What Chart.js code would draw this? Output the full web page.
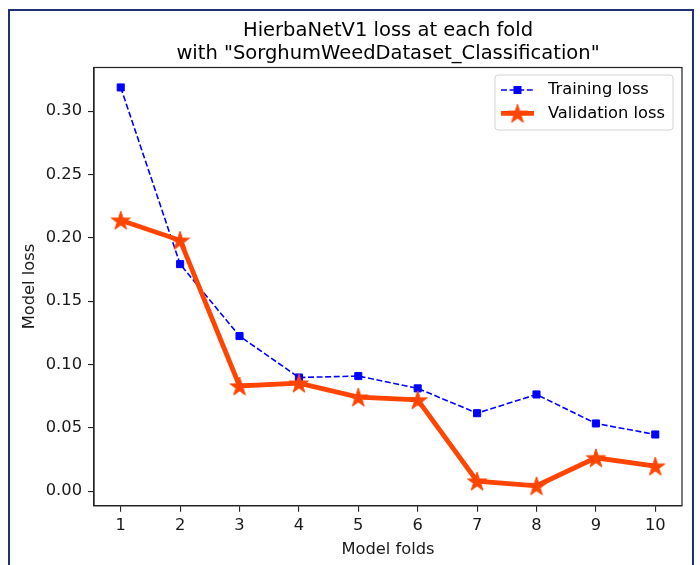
<!DOCTYPE html>
<html>
<head>
<meta charset="utf-8">
<script src="https://cdn.jsdelivr.net/npm/chart.js@4.4.0/dist/chart.umd.min.js"></script>
<style>
  body { margin: 0; background: #fff; overflow: hidden; }
  #frame { position: absolute; left: 8px; top: 9px; width: 686px; height: 620px; box-sizing: border-box; border: 2px solid #1f3175; }
  #chart { position: absolute; left: 0; top: 0; }
</style>
</head>
<body>
<div id="frame"></div>
<canvas id="chart" width="700" height="565"></canvas>
<script>
// Data
const folds = [1, 2, 3, 4, 5, 6, 7, 8, 9, 10];
const trainingLoss = [0.3187, 0.1792, 0.1224, 0.0897, 0.0908, 0.0811, 0.0615, 0.0763, 0.0534, 0.0447];
const validationLoss = [0.2139, 0.1980, 0.0830, 0.0852, 0.0742, 0.0720, 0.0079, 0.0042, 0.0263, 0.0197];
const yTicks = [0, 0.05, 0.10, 0.15, 0.20, 0.25, 0.30];

const family = "'DejaVu Sans', sans-serif";
const fontSize = 16.3;
const ink = "#1a1a1a";

// matplotlib style autoscale: 5% margin around the data
const allLoss = trainingLoss.concat(validationLoss);
const yLo = Math.min(...allLoss), yHi = Math.max(...allLoss);
const yPad = (yHi - yLo) * 0.05;
const xPad = (folds[folds.length - 1] - folds[0]) * 0.05;

// filled five point star marker, like matplotlib's "*"
function makeStar(color, R) {
  const c = document.createElement("canvas");
  c.width = c.height = Math.ceil(R * 2 + 4);
  const g = c.getContext("2d");
  const cx = c.width / 2, cy = c.height / 2 + R * 0.1;
  const r = R * 0.382;
  g.beginPath();
  for (let i = 0; i < 10; i++) {
    const rad = i % 2 === 0 ? R : r;
    const a = -Math.PI / 2 + i * Math.PI / 5;
    g.lineTo(cx + rad * Math.cos(a), cy + rad * Math.sin(a));
  }
  g.closePath();
  g.fillStyle = color;
  g.fill();
  g.strokeStyle = color;
  g.lineWidth = 1;
  g.stroke();
  return c;
}
const star = makeStar("#ff4500", 10);

// axes box drawn on all four sides
const spines = {
  id: "spines",
  afterDatasetsDraw(chart) {
    const { ctx, chartArea: a } = chart;
    ctx.save();
    ctx.strokeStyle = "#222";
    ctx.lineWidth = 1.2;
    ctx.strokeRect(a.left, a.top, a.right - a.left, a.bottom - a.top);
    ctx.restore();
  }
};

// matplotlib-like legend in the upper right corner
const mplLegend = {
  id: "mplLegend",
  afterDraw(chart) {
    const { ctx, chartArea: a } = chart;
    const sets = chart.data.datasets;
    ctx.save();
    ctx.font = `${fontSize}px ${family}`;
    const textW = Math.max(...sets.map(d => ctx.measureText(d.label).width));
    const w = 6 + 33 + 14 + textW + 8;
    const h = 55;
    const x0 = a.right - 9 - w;
    const y0 = a.top + 7.5;
    ctx.beginPath();
    ctx.roundRect(x0, y0, w, h, 3);
    ctx.fillStyle = "rgba(255,255,255,0.8)";
    ctx.fill();
    ctx.strokeStyle = "#d4d4d4";
    ctx.lineWidth = 1;
    ctx.stroke();
    sets.forEach((ds, i) => {
      const cy = y0 + 15 + i * 23.3;
      const hx0 = x0 + 6, hx1 = hx0 + 33, hm = (hx0 + hx1) / 2;
      ctx.beginPath();
      ctx.setLineDash(ds.borderDash || []);
      ctx.strokeStyle = ds.borderColor;
      ctx.lineWidth = ds.borderWidth;
      ctx.moveTo(hx0, cy);
      ctx.lineTo(hx1, cy);
      ctx.stroke();
      ctx.setLineDash([]);
      if (ds.pointStyle === "rect") {
        const s = 8;
        ctx.fillStyle = ds.pointBackgroundColor;
        ctx.fillRect(hm - s / 2, cy - s / 2, s, s);
      } else {
        ctx.drawImage(ds.pointStyle, hm - ds.pointStyle.width / 2, cy - ds.pointStyle.height / 2);
      }
      ctx.fillStyle = "#000";
      ctx.textBaseline = "middle";
      ctx.textAlign = "left";
      ctx.fillText(ds.label, hx1 + 14, cy);
    });
    ctx.restore();
  }
};

new Chart(document.getElementById("chart"), {
  type: "line",
  data: {
    datasets: [
      {
        label: "Training loss",
        data: folds.map((f, i) => ({ x: f, y: trainingLoss[i] })),
        borderColor: "#0000ff",
        borderWidth: 1.6,
        borderDash: [6, 2.6],
        pointStyle: "rect",
        pointRadius: 5,
        pointBorderWidth: 1,
        pointBackgroundColor: "#0000ff",
        pointBorderColor: "#0000ff",
        tension: 0,
        order: 1
      },
      {
        label: "Validation loss",
        data: folds.map((f, i) => ({ x: f, y: validationLoss[i] })),
        borderColor: "#ff4500",
        borderWidth: 4.8,
        pointStyle: star,
        pointRadius: 10,
        pointBackgroundColor: "#ff4500",
        pointBorderColor: "#ff4500",
        tension: 0,
        order: 0
      }
    ]
  },
  options: {
    responsive: false,
    animation: false,
    devicePixelRatio: 1,
    layout: { padding: { left: 0, right: 18, top: 0, bottom: 0 } },
    plugins: {
      legend: { display: false },
      tooltip: { enabled: false },
      title: {
        display: true,
        fullSize: false,
        text: ["HierbaNetV1 loss at each fold", "with \"SorghumWeedDataset_Classification\""],
        color: "#000",
        font: { family: family, size: 19.5, weight: "normal", lineHeight: 1.2 },
        padding: { top: 18.8, bottom: 1.9 }
      }
    },
    scales: {
      x: {
        type: "linear",
        min: folds[0] - xPad,
        max: folds[folds.length - 1] + xPad,
        afterBuildTicks: s => { s.ticks = folds.map(v => ({ value: v })); },
        afterFit: s => { s.height = 59.3; },
        grid: { drawOnChartArea: false, drawTicks: true, tickLength: 6, color: "#222", lineWidth: 1.1 },
        border: { display: true, color: "#222", width: 1.2 },
        ticks: { color: ink, font: { family: family, size: fontSize }, padding: 4, maxRotation: 0, autoSkip: false },
        title: { display: true, text: "Model folds", color: ink, font: { family: family, size: fontSize }, padding: { top: 0, bottom: 5.9 } }
      },
      y: {
        type: "linear",
        min: yLo - yPad,
        max: yHi + yPad,
        afterBuildTicks: s => { s.ticks = yTicks.map(v => ({ value: v })); },
        afterFit: s => { s.width = 94; },
        grid: { drawOnChartArea: false, drawTicks: true, tickLength: 6, color: "#222", lineWidth: 1.1 },
        border: { display: true, color: "#222", width: 1.2 },
        ticks: { color: ink, font: { family: family, size: fontSize }, padding: 6, callback: v => v.toFixed(2) },
        title: { display: true, text: "Model loss", color: ink, font: { family: family, size: fontSize }, padding: { top: 19.5, bottom: 0 } }
      }
    }
  },
  plugins: [spines, mplLegend]
});
</script>
</body>
</html>
